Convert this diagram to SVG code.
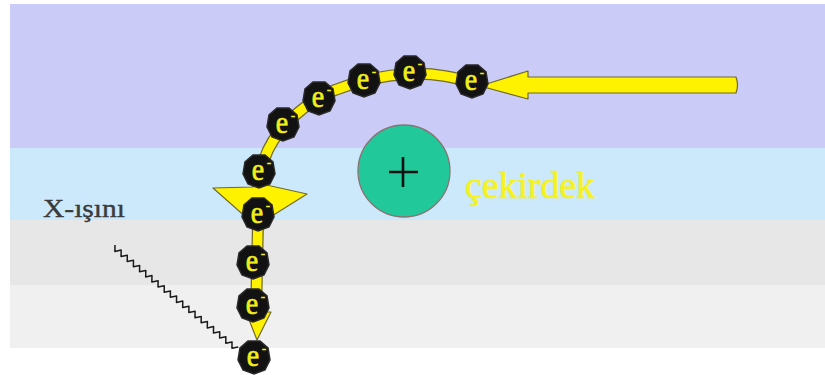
<svg xmlns="http://www.w3.org/2000/svg" xmlns:xlink="http://www.w3.org/1999/xlink" width="825" height="375" viewBox="0 0 825 375">
  <style>
    .track-edge { fill: none; stroke: #6f6a2a; stroke-width: 12; stroke-linecap: butt; stroke-linejoin: round; }
    .track { fill: none; stroke: #fff200; stroke-width: 9.5; stroke-linecap: butt; stroke-linejoin: round; }
    .head { fill: #fff200; stroke: #6f6a2a; stroke-width: 1.2; stroke-linejoin: round; }
    .e-body { fill: #121212; stroke: #2a2a2a; stroke-width: 1.5; }
    .e-text { font-family: "Liberation Serif", "DejaVu Serif", "Times New Roman", serif; fill: #f2ee1a; stroke: #f2ee1a; stroke-width: 0.6; }
    .label { font-family: "Liberation Serif", "DejaVu Serif", "Times New Roman", serif; }
  </style>
  <defs>
    <!-- one electron: dark blob with a yellow "e" and superscript minus -->
    <g id="electron-shape">
      <path class="e-body" d="M-6,-16 L6,-16 L14,-9 L16,3 L11,13 L0,17 L-11,13 L-16,3 L-14,-9 Z"/>
      <text class="e-text" x="-1" y="8" font-size="28" text-anchor="middle" transform="scale(1,1.15)">e</text>
      <text class="e-text" x="10" y="-4" font-size="12" text-anchor="middle">-</text>
    </g>
  </defs>

  <!-- background layers -->
  <g id="background">
    <rect x="10" y="4" width="815" height="144" fill="#cbcbf8"/>
    <rect x="10" y="148" width="815" height="72" fill="#cbe9fa"/>
    <rect x="10" y="220" width="815" height="65" fill="#e7e7e7"/>
    <rect x="10" y="285" width="815" height="63" fill="#f0f0f0"/>
  </g>

  <!-- electron trajectory and X-ray -->
  <g id="connectors">
    <!-- incoming beam -->
    <path class="head" d="M528,77 L736,77 Q739,85 736,93 L528,93 L528,99 L480,86 L528,71 Z"/>
    <!-- bent path around the nucleus -->
    <path class="track-edge" d="M482,85 C455,77 435,73 410,74 C385,75 360,80 335,90 C305,103 280,125 268,150 C261,165 258,178 258,192"/>
    <path class="track" d="M482,85 C455,77 435,73 410,74 C385,75 360,80 335,90 C305,103 280,125 268,150 C261,165 258,178 258,192"/>
    <!-- deflection arrowhead -->
    <path class="head" d="M213,188 L252,187 L262,184 L307,194 L256,226 Z"/>
    <!-- downward run -->
    <path class="track-edge" d="M258,222 L256,315"/>
    <path class="track" d="M258,222 L256,315"/>
    <path class="head" d="M246,312 L271,312 L257,340 Z"/>
    <!-- emitted X-ray photon -->
    <path id="x-ray" fill="none" stroke="#1a1a1a" stroke-width="1.5" stroke-linejoin="round"
      d="M115,245 l-0.11,6.4 6.27,-1.3 -0.11,6.4 6.27,-1.3 -0.11,6.4 6.27,-1.3 -0.11,6.4 6.27,-1.3 -0.11,6.4 6.27,-1.3 -0.11,6.4 6.27,-1.3 -0.11,6.4 6.27,-1.3 -0.11,6.4 6.27,-1.3 -0.11,6.4 6.27,-1.3 -0.11,6.4 6.27,-1.3 -0.11,6.4 6.27,-1.3 -0.11,6.4 6.27,-1.3 -0.11,6.4 6.27,-1.3 -0.11,6.4 6.27,-1.3 -0.11,6.4 6.27,-1.3 -0.11,6.4 6.27,-1.3 -0.11,6.4 6.27,-1.3 -0.11,6.4 6.27,-1.3 -0.11,6.4 6.27,-1.3 -0.11,6.4 6.27,-1.3"/>
  </g>

  <!-- nucleus -->
  <g id="nucleus">
    <ellipse cx="404" cy="171" rx="46" ry="46" fill="#20c89a" stroke="#8c7272" stroke-width="1.3"/>
    <path d="M389,172 L418,172 M403,157 L403,187" stroke="#111" stroke-width="2.6"/>
  </g>
  <g id="nucleus-label">
    <text class="label" x="465" y="198" font-size="37" fill="#f5f21e" stroke="#f5f21e" stroke-width="0.7" textLength="130" lengthAdjust="spacingAndGlyphs">çekirdek</text>
  </g>
  <g id="xray-label">
    <text class="label" x="43" y="217" font-size="26" fill="#3a3a3a" stroke="#3a3a3a" stroke-width="0.4" textLength="82" lengthAdjust="spacingAndGlyphs">X-ışını</text>
  </g>

  <!-- electrons along the path -->
  <g id="electron-1"><use xlink:href="#electron-shape" x="472" y="81"/></g>
  <g id="electron-2"><use xlink:href="#electron-shape" x="410" y="72"/></g>
  <g id="electron-3"><use xlink:href="#electron-shape" x="364" y="80"/></g>
  <g id="electron-4"><use xlink:href="#electron-shape" x="319" y="98"/></g>
  <g id="electron-5"><use xlink:href="#electron-shape" x="283" y="124"/></g>
  <g id="electron-6"><use xlink:href="#electron-shape" x="259" y="171"/></g>
  <g id="electron-7"><use xlink:href="#electron-shape" x="258" y="214"/></g>
  <g id="electron-8"><use xlink:href="#electron-shape" x="253" y="262"/></g>
  <g id="electron-9"><use xlink:href="#electron-shape" x="253" y="305"/></g>
  <g id="electron-10"><use xlink:href="#electron-shape" x="254" y="357"/></g>
</svg>
